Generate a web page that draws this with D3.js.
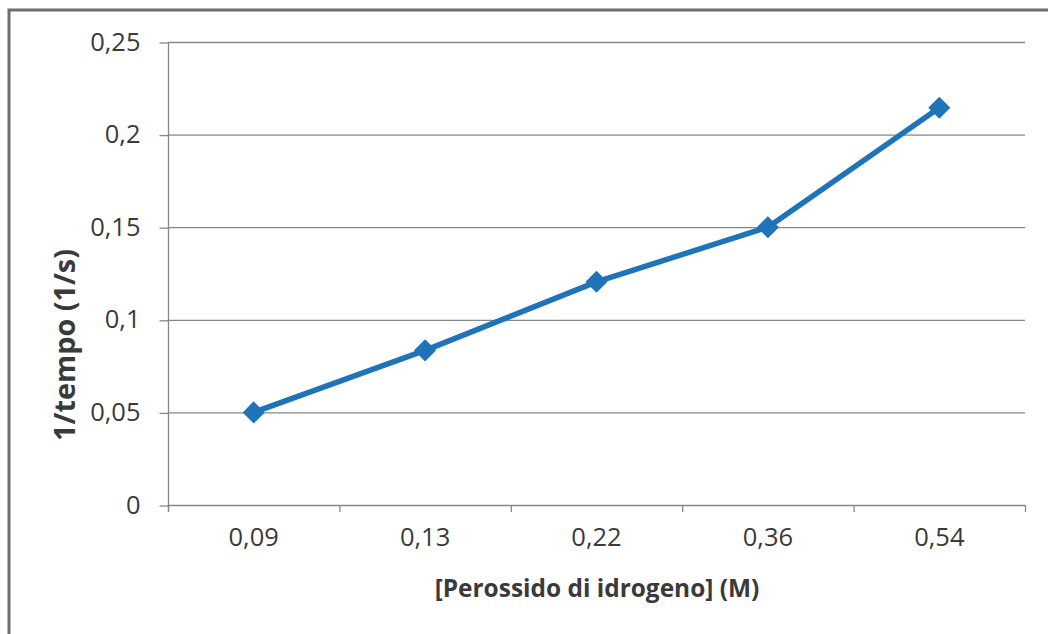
<!DOCTYPE html>
<html><head><meta charset="utf-8">
<script src="https://cdn.jsdelivr.net/npm/d3@7"></script>
<style>body{margin:0;background:#fff}svg{display:block}</style>
</head><body><svg id="c" width="1048" height="634"></svg>
<script>
const categories = ["0,09","0,13","0,22","0,36","0,54"];
const values = [0.05, 0.0835, 0.1205, 0.150, 0.2145];
const yTicks = [0, 0.05, 0.1, 0.15, 0.2, 0.25];
const yTickLabels = ["0","0,05","0,1","0,15","0,2","0,25"];
const xTitle = "[Perossido di idrogeno] (M)";
const yTitle = "1/tempo (1/s)";

const svg = d3.select("#c");
const font = "'Open Sans', 'Noto Sans', sans-serif";
const L = 168, R = 1025, T = 42, B = 505;
const axisCol = "#878787";
const lineCol = "#1f73b8";
const textCol = "#3a3a3a";

function fit(sel, target) {
  const w = sel.node().getComputedTextLength();
  const fs = parseFloat(sel.attr("font-size"));
  sel.attr("font-size", fs * target / w);
}

svg.append("rect").attr("x", 9).attr("y", 10).attr("width", 1060).attr("height", 640)
  .attr("fill", "none").attr("stroke", "#6d7070").attr("stroke-width", 3);

const x = d3.scaleBand().domain(categories).range([L, R]).paddingInner(0).paddingOuter(0);
const y = d3.scaleLinear().domain([0, 0.25]).range([B, T]);

svg.append("g").selectAll("line").data(yTicks.filter(d => d > 0)).join("line")
  .attr("x1", L).attr("x2", R).attr("y1", d => y(d) + 0.5).attr("y2", d => y(d) + 0.5)
  .attr("stroke", axisCol).attr("stroke-width", 1.3);

const yAxis = svg.append("g").attr("transform", `translate(${L + 0.5},0)`)
  .call(d3.axisLeft(y).tickValues(yTicks).tickSize(9).tickPadding(19)
    .tickFormat((d, i) => yTickLabels[i]));
yAxis.select(".domain").attr("stroke", axisCol).attr("stroke-width", 1.3).attr("d", `M-0,${T}V${B + 6}`);
yAxis.selectAll(".tick line").attr("stroke", axisCol).attr("stroke-width", 1.3).attr("transform", "translate(0,0.5)");
yAxis.selectAll(".tick text").attr("font-family", font).attr("font-size", 25.5).attr("fill", textCol);

const xAxis = svg.append("g").attr("transform", `translate(0,${B + 0.5})`)
  .call(d3.axisBottom(x).tickSize(0).tickPadding(30));
xAxis.select(".domain").attr("stroke", axisCol).attr("stroke-width", 1.3).attr("d", `M${L},0H${R}`);
xAxis.selectAll(".tick text").attr("font-family", font).attr("font-size", 25.5).attr("fill", textCol)
  .attr("dy", "0.42em");
const bounds = categories.map(c => x(c)).concat([x(categories[categories.length - 1]) + x.bandwidth()]);
svg.append("g").selectAll("line").data(bounds).join("line")
  .attr("x1", d => d + 0.5).attr("x2", d => d + 0.5).attr("y1", B).attr("y2", B + 7)
  .attr("stroke", axisCol).attr("stroke-width", 1.3);

const cx = c => x(c) + x.bandwidth() / 2;
const pts = categories.map((c, i) => [cx(c), y(values[i])]);
svg.append("path").attr("d", d3.line()(pts)).attr("fill", "none")
  .attr("stroke", lineCol).attr("stroke-width", 5.5).attr("stroke-linejoin", "round");
svg.append("g").selectAll("path").data(pts).join("path")
  .attr("d", d3.symbol(d3.symbolDiamond2, 310)())
  .attr("transform", d => `translate(${d[0]},${d[1]})`)
  .attr("fill", lineCol);

const xt = svg.append("text").attr("x", 597).attr("y", 597).attr("text-anchor", "middle")
  .attr("font-family", font).attr("font-size", 24).attr("font-weight", "bold").attr("fill", textCol)
  .text(xTitle);
fit(xt, 325);
const yt = svg.append("text").attr("transform", `translate(75,345) rotate(-90)`).attr("text-anchor", "middle")
  .attr("font-family", font).attr("font-size", 24).attr("font-weight", "bold").attr("fill", textCol)
  .text(yTitle);
fit(yt, 192);
</script></body></html>
